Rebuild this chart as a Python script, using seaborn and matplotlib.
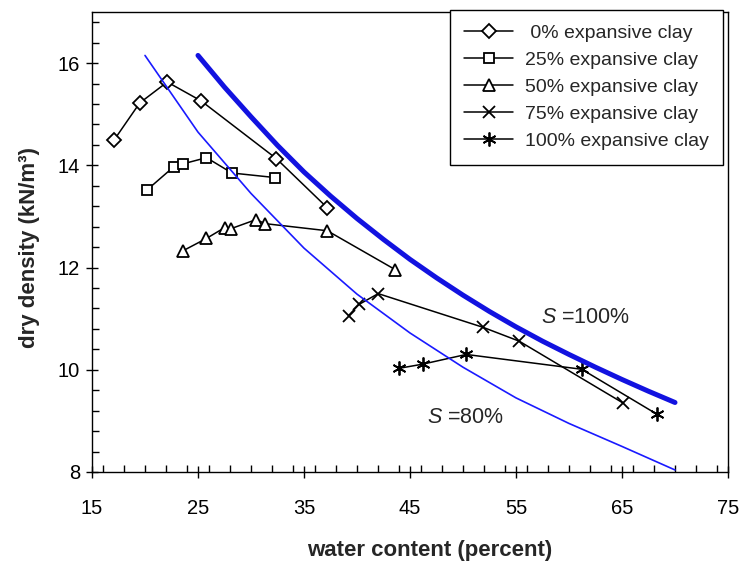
import matplotlib
matplotlib.use("Agg")
import matplotlib.pyplot as plt
import seaborn as sns
from matplotlib.ticker import MultipleLocator
from matplotlib.lines import Line2D

# Compaction results: water content (%) vs dry density (kN/m3)
w_0 = [17.1, 19.5, 22.1, 25.3, 32.4, 37.2]
g_0 = [14.50, 15.22, 15.63, 15.26, 14.13, 13.17]
w_25 = [20.2, 22.7, 23.6, 25.8, 28.2, 32.3]
g_25 = [13.52, 13.97, 14.03, 14.15, 13.85, 13.76]
w_50 = [23.6, 25.8, 27.5, 28.1, 30.5, 31.3, 37.2, 43.6]
g_50 = [12.33, 12.57, 12.78, 12.76, 12.94, 12.86, 12.72, 11.96]
w_75 = [39.2, 40.2, 42.0, 51.9, 55.3, 65.1]
g_75 = [11.06, 11.28, 11.49, 10.83, 10.56, 9.35]
w_100 = [44.0, 46.2, 50.3, 61.2, 68.3]
g_100 = [10.03, 10.11, 10.30, 10.01, 9.13]

# Saturation lines
w_s100 = [25, 27.5, 30, 32.5, 35, 37.5, 40, 42.5, 45, 47.5,
          50, 52.5, 55, 57.5, 60, 62.5, 65, 67.5, 70]
g_s100 = [16.15, 15.53, 14.95, 14.39, 13.87, 13.40, 12.96, 12.55, 12.16, 11.80,
          11.46, 11.14, 10.84, 10.56, 10.30, 10.05, 9.81, 9.58, 9.36]
w_s80 = [20, 25, 30, 35, 40, 45, 50, 55, 60, 65, 70]
g_s80 = [16.15, 14.65, 13.45, 12.38, 11.48, 10.72, 10.05, 9.45, 8.95, 8.50, 8.04]

labels = [" 0% expansive clay", "25% expansive clay", "50% expansive clay",
          "75% expansive clay", "100% expansive clay"]
xticks = [15, 25, 35, 45, 55, 65, 75]
yticks = [8, 10, 12, 14, 16]

sns.set_theme(style="white")
plt.rcParams["font.family"] = ["Liberation Sans", "DejaVu Sans"]
plt.rcParams["mathtext.fontset"] = "custom"
plt.rcParams["mathtext.it"] = "Liberation Sans:italic"
plt.rcParams["mathtext.rm"] = "Liberation Sans"

fig = plt.figure(figsize=(7.48, 5.61), dpi=100)
ax = fig.add_axes([92 / 748, 1 - 472 / 561, 636 / 748, 460 / 561])

series = [
    (w_0, g_0, dict(marker="D", markersize=7.5, markerfacecolor="white")),
    (w_25, g_25, dict(marker="s", markersize=7.5, markerfacecolor="white")),
    (w_50, g_50, dict(marker="^", markersize=8.5, markerfacecolor="white")),
    (w_75, g_75, dict(marker="x", markersize=9)),
    (w_100, g_100, dict(marker=(6, 2, 0), markersize=10)),
]

handles = []
for (w, g, mk), lab in zip(series, labels):
    style = dict(color="black", linewidth=1.1, markeredgecolor="black",
                 markeredgewidth=1.3, **mk)
    sns.lineplot(x=w, y=g, ax=ax, legend=False, **style)
    handles.append(Line2D([], [], label=lab, **style))

sns.lineplot(x=w_s100, y=g_s100, ax=ax, color="#1212e0", linewidth=3.6, legend=False)
sns.lineplot(x=w_s80, y=g_s80, ax=ax, color="#1a1aff", linewidth=1.2, legend=False)

ax.text(57.4, 11.02, "$S$ =100%", fontsize=15.5, ha="left", va="center")
ax.text(46.6, 9.07, "$S$ =80%", fontsize=15.5, ha="left", va="center")

ax.set_xlim(15, 75)
ax.set_ylim(8, 17)
ax.set_xticks(xticks)
ax.set_yticks(yticks)
ax.xaxis.set_minor_locator(MultipleLocator(2))
ax.yaxis.set_minor_locator(MultipleLocator(0.4))
ax.tick_params(which="major", direction="inout", length=9, width=1,
               color="black", labelsize=14.5, labelcolor="black")
ax.tick_params(which="minor", direction="in", length=5, width=1, color="black")
ax.tick_params(axis="x", which="major", pad=15, bottom=True)
ax.tick_params(axis="x", which="minor", bottom=True)
ax.tick_params(axis="y", which="major", pad=4, left=True)
ax.tick_params(axis="y", which="minor", left=True)

for sp in ax.spines.values():
    sp.set_color("black")
    sp.set_linewidth(1.0)
    sp.set_visible(True)

ax.set_xlabel("water content (percent)", fontsize=16, fontweight="bold", va="center")
ax.set_ylabel("dry density (kN/m\u00b3)", fontsize=16, fontweight="bold", va="center")
ax.xaxis.set_label_coords(0.531, -0.17)
ax.yaxis.set_label_coords(-0.099, 0.487)

leg = ax.legend(handles=handles, loc="upper right",
                bbox_to_anchor=(723 / 748, 1 - 10 / 561),
                bbox_transform=fig.transFigure, borderaxespad=0,
                fontsize=14, frameon=True, fancybox=False, framealpha=1,
                edgecolor="black", handlelength=2.5, handletextpad=0.6,
                labelspacing=0.48, borderpad=0.75)
leg.get_frame().set_linewidth(1.0)

fig.savefig("out.png", dpi=100)
